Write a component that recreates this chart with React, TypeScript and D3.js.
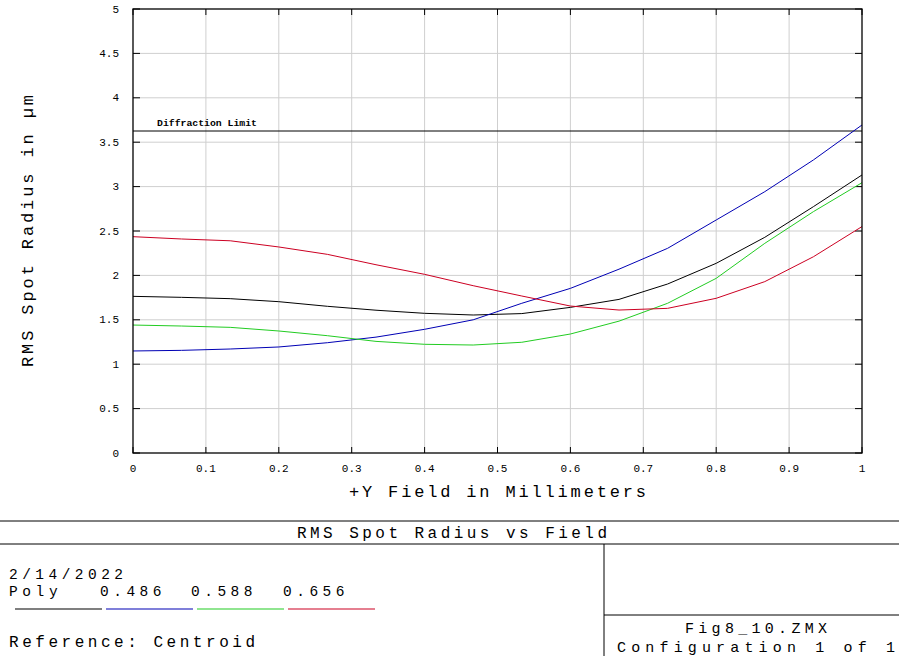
import React from "react";
import * as d3 from "d3";

const fields = [0, 1 / 15, 2 / 15, 3 / 15, 4 / 15, 5 / 15, 6 / 15, 7 / 15, 8 / 15, 9 / 15, 10 / 15, 11 / 15, 12 / 15, 13 / 15, 14 / 15, 1];
const polyValues = [1.764, 1.753, 1.738, 1.704, 1.652, 1.608, 1.573, 1.554, 1.57, 1.64, 1.73, 1.903, 2.136, 2.429, 2.774, 3.131];
const blueValues = [1.149, 1.156, 1.171, 1.194, 1.242, 1.305, 1.393, 1.5, 1.686, 1.854, 2.07, 2.305, 2.624, 2.943, 3.3, 3.694];
const greenValues = [1.441, 1.43, 1.415, 1.374, 1.321, 1.257, 1.224, 1.216, 1.247, 1.34, 1.485, 1.686, 1.967, 2.361, 2.718, 3.044];
const redValues = [2.436, 2.41, 2.39, 2.32, 2.237, 2.12, 2.012, 1.884, 1.768, 1.655, 1.61, 1.629, 1.742, 1.93, 2.21, 2.55];
const seriesNames = ["Poly", "0.486", "0.588", "0.656"];
const seriesColors = ["#000000", "#0000b4", "#22cc22", "#cc0022"];
const diffractionLimit = 3.626;
const xTicks = [0, 0.1, 0.2, 0.3, 0.4, 0.5, 0.6, 0.7, 0.8, 0.9, 1];
const yTicks = [0, 0.5, 1, 1.5, 2, 2.5, 3, 3.5, 4, 4.5, 5];

const W = 899;
const H = 656;
const left = 133, right = 862, top = 9, bottom = 453;
const mono = "'Courier New', 'Liberation Mono', monospace";

export default function App() {
  const x = d3.scaleLinear().domain([0, 1]).range([left, right]);
  const y = d3.scaleLinear().domain([0, 5]).range([bottom, top]);
  const line = d3.line<number>().x((_, i) => x(fields[i])).y((d) => y(d));
  const allSeries = [polyValues, blueValues, greenValues, redValues];
  const legendX = [15, 106, 197, 288];
  const nameX = [9, 100, 191, 283];

  return (
    <svg width={W} height={H} style={{ position: "absolute", left: 0, top: 0, background: "#fff" }}>
      <rect x={0} y={0} width={W} height={H} fill="#fff" />
      {xTicks.slice(1, -1).map((t) => (
        <line key={"gx" + t} x1={x(t)} x2={x(t)} y1={top} y2={bottom} stroke="#cfcfcf" strokeWidth={1} />
      ))}
      {yTicks.slice(1, -1).map((t) => (
        <line key={"gy" + t} x1={left} x2={right} y1={y(t)} y2={y(t)} stroke="#cfcfcf" strokeWidth={1} />
      ))}
      {xTicks.map((t) => (
        <g key={"tx" + t}>
          <line x1={x(t)} x2={x(t)} y1={top} y2={top + 6} stroke="#000" />
          <line x1={x(t)} x2={x(t)} y1={bottom} y2={bottom - 6} stroke="#000" />
          <text x={x(t)} y={472} fontFamily={mono} fontSize={11} textAnchor="middle" fill="#000">
            {String(t)}
          </text>
        </g>
      ))}
      {yTicks.map((t) => (
        <g key={"ty" + t}>
          <line x1={left} x2={left + 7} y1={y(t)} y2={y(t)} stroke="#000" />
          <line x1={right} x2={right - 7} y1={y(t)} y2={y(t)} stroke="#000" />
          <text x={119} y={y(t) + 3.5} fontFamily={mono} fontSize={11} textAnchor="end" fill="#000">
            {String(t)}
          </text>
        </g>
      ))}
      <line x1={left} x2={right} y1={y(diffractionLimit)} y2={y(diffractionLimit)} stroke="#000" strokeWidth={1} />
      <text x={157} y={126} fontFamily={mono} fontSize={9.5} fontWeight="bold" textLength={100} lengthAdjust="spacingAndGlyphs" fill="#000">
        Diffraction Limit
      </text>
      {allSeries.map((s, i) => (
        <path key={"s" + i} d={line(s) || ""} fill="none" stroke={seriesColors[i]} strokeWidth={1} />
      ))}
      <rect x={left} y={top} width={right - left} height={bottom - top} fill="none" stroke="#000" strokeWidth={1.3} />
      <text
        transform={`translate(33, ${(top + bottom) / 2}) rotate(-90)`}
        textAnchor="middle"
        fontFamily={mono}
        fontSize={17}
        textLength={272}
        lengthAdjust="spacing"
        fill="#000"
      >
        RMS Spot Radius in µm
      </text>
      <text x={(left + right) / 2} y={497} textAnchor="middle" fontFamily={mono} fontSize={17} textLength={297} lengthAdjust="spacing" fill="#000">
        +Y Field in Millimeters
      </text>
      <line x1={0} x2={W} y1={521} y2={521} stroke="#000" />
      <line x1={0} x2={W} y1={544} y2={544} stroke="#000" />
      <line x1={604} x2={604} y1={544} y2={H} stroke="#000" />
      <line x1={604} x2={W} y1={615} y2={615} stroke="#000" />
      <text x={452} y={538} textAnchor="middle" fontFamily={mono} fontSize={16} textLength={310} lengthAdjust="spacing" fill="#000">
        RMS Spot Radius vs Field
      </text>
      <text x={9} y={579} fontFamily={mono} fontSize={14.5} textLength={114} lengthAdjust="spacing" fill="#000">
        2/14/2022
      </text>
      {seriesNames.map((n, i) => (
        <text key={"ln" + i} x={nameX[i]} y={596} fontFamily={mono} fontSize={14.5} textLength={n.length * 12.9 - 3} lengthAdjust="spacing" fill="#000">
          {n}
        </text>
      ))}
      {seriesColors.map((c, i) => (
        <line key={"ll" + i} x1={legendX[i]} x2={legendX[i] + 87} y1={609} y2={609} stroke={c} strokeWidth={1.2} />
      ))}
      <text x={9} y={647} fontFamily={mono} fontSize={16} textLength={246} lengthAdjust="spacing" fill="#000">
        Reference: Centroid
      </text>
      <text x={756} y={633} textAnchor="middle" fontFamily={mono} fontSize={15} textLength={142} lengthAdjust="spacing" fill="#000">
        Fig8_10.ZMX
      </text>
      <text x={756} y={652} textAnchor="middle" fontFamily={mono} fontSize={15} textLength={278} lengthAdjust="spacing" fill="#000">
        Configuration 1 of 1
      </text>
    </svg>
  );
}
